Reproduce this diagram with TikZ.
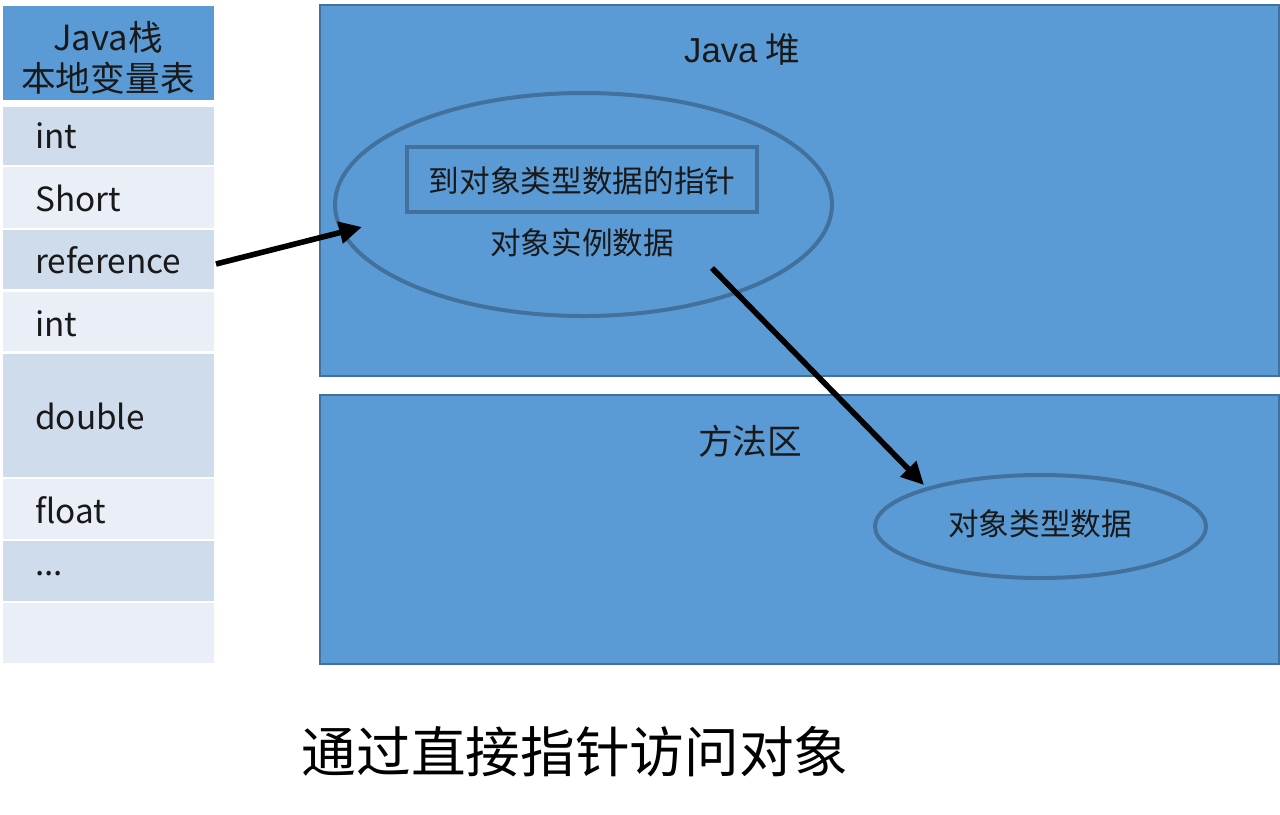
\documentclass[tikz,border=0pt]{standalone}
\usepackage{fontspec}
\setmainfont{Noto Sans CJK SC}
\newfontfamily\arialf{Liberation Sans}
\usetikzlibrary{shapes.geometric,arrows.meta}
\definecolor{heapblue}{HTML}{5B9BD5}
\definecolor{edgeblue}{HTML}{41719C}
\definecolor{rowdark}{HTML}{CFDCEC}
\definecolor{rowlight}{HTML}{E9EEF7}
\tikzset{
  stackrow/.style={rectangle, inner sep=0pt, minimum width=158.25pt},
  darkrow/.style={stackrow, fill=rowdark},
  lightrow/.style={stackrow, fill=rowlight},
  rowtext/.style={anchor=base west, inner sep=0pt, font=\fontsize{25}{30}\selectfont, text=black!90},
  area/.style={rectangle, fill=heapblue, draw=edgeblue, line width=0.8pt, inner sep=0pt, minimum width=719.25pt},
  oval/.style={ellipse, draw=edgeblue, line width=3pt, inner sep=0pt},
  lbl/.style={inner sep=0pt, text=black!90},
  ptr/.style={line width=4.2pt, -{Triangle[length=17pt,width=16pt]}},
}
\begin{document}
\begin{tikzpicture}[x=0.75pt,y=-0.75pt]
\useasboundingbox (0,0) rectangle (1280,814);
% Java stack column
\node[stackrow, fill=heapblue, minimum height=70.5pt] (hdr) at (108.5,53) {};
\node[lbl, font=\fontsize{26}{30}\selectfont] (hdr1) at (108,37) {Java栈};
\node[lbl, font=\fontsize{26}{30}\selectfont] (hdr2) at (108,78) {本地变量表};
\node[darkrow,  minimum height=43.5pt]  (r1) at (108.5,136) {};
\node[lightrow, minimum height=45.75pt] (r2) at (108.5,197.5) {};
\node[darkrow,  minimum height=44.25pt] (ref) at (108.5,259.5) {};
\node[lightrow, minimum height=44.25pt] (r4) at (108.5,321.5) {};
\node[darkrow,  minimum height=92.25pt] (r5) at (108.5,415.5) {};
\node[lightrow, minimum height=45pt]    (r6) at (108.5,509) {};
\node[darkrow,  minimum height=45pt]    (r7) at (108.5,571) {};
\node[lightrow, minimum height=45pt]    (r8) at (108.5,633) {};
\node[rowtext] (t1) at (35,148) {int};
\node[rowtext] (t2) at (35,211) {Short};
\node[rowtext] (t3) at (35,273) {reference};
\node[rowtext] (t4) at (35,336) {int};
\node[rowtext] (t5) at (35,429) {double};
\node[rowtext] (t6) at (35,523) {float};
\node[rowtext] (t7) at (35,575) {...};
% Java heap
\node[area, minimum height=278.25pt] (heap) at (799.5,190.5) {};
\node[lbl, font=\fontsize{26}{30}\selectfont] (heaplbl) at (742,49) {{\arialf Java} 堆};
\node[oval, minimum width=372.75pt, minimum height=167.25pt] (obj) at (583.5,204.5) {};
\node[rectangle, draw=edgeblue, line width=2.8pt, minimum width=262.5pt, minimum height=48.75pt, inner sep=0pt] (ptrbox) at (582,179.5) {};
\node[lbl, font=\fontsize{23}{28}\selectfont] (ptrtxt) at (582,181) {到对象类型数据的指针};
\node[lbl, font=\fontsize{23}{28}\selectfont] (insttxt) at (582,243) {对象实例数据};
% Method area
\node[area, minimum height=201.75pt] (meth) at (799.5,529.5) {};
\node[lbl, font=\fontsize{26}{30}\selectfont] (methlbl) at (750,441) {方法区};
\node[oval, minimum width=248.25pt, minimum height=77.25pt] (type) at (1040.5,526.5) {};
\node[lbl, font=\fontsize{23}{28}\selectfont] (typetxt) at (1040,524) {对象类型数据};
% Title
\node[inner sep=0pt, font=\fontsize{41}{46}\selectfont, text=black] (title) at (575,752) {通过直接指针访问对象};
% pointers
\coordinate (a1s) at (216,264);
\coordinate (a1e) at (362,227);
\coordinate (a2s) at (712,268);
\coordinate (a2e) at (924,485);
\draw[ptr] (a1s) -- (a1e);
\draw[ptr] (a2s) -- (a2e);
\end{tikzpicture}
\end{document}
